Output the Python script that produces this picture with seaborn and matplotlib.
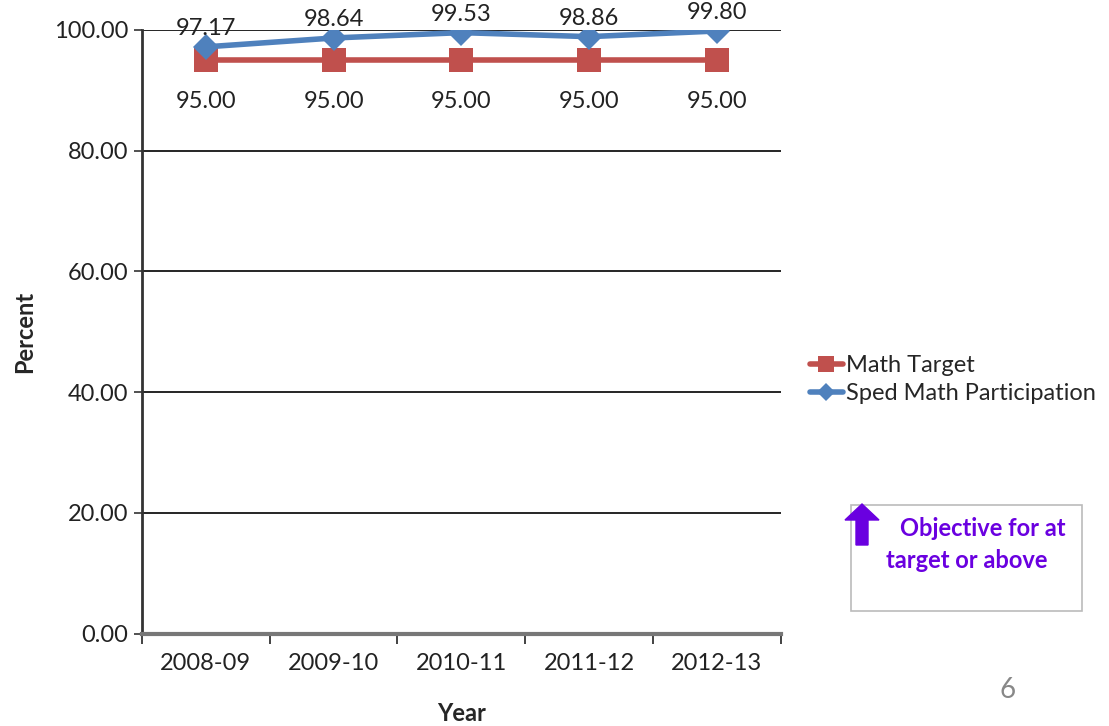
import numpy as np
import pandas as pd
import matplotlib
matplotlib.use("Agg")
import matplotlib.pyplot as plt
from matplotlib.patches import Rectangle, FancyArrow
import seaborn as sns

# chart values
years = ["2008-09", "2009-10", "2010-11", "2011-12", "2012-13"]
math_target = [95.00, 95.00, 95.00, 95.00, 95.00]
sped_participation = [97.17, 98.64, 99.53, 98.86, 99.80]
series_names = ["Math Target", "Sped Math Participation"]

df = pd.DataFrame({
    "Year": years * 2,
    "Percent": math_target + sped_participation,
    "Series": [series_names[0]] * len(years) + [series_names[1]] * len(years),
})

sns.set_style("white")
plt.rcParams["font.family"] = ["Lato", "DejaVu Sans"]
fs = 17

fig = plt.figure(figsize=(11.09, 7.26), dpi=100)
ax = fig.add_axes([0.128, 0.127, 0.576, 0.832])

red = "#C0504D"
blue = "#4F81BD"
sns.lineplot(data=df, x="Year", y="Percent", hue="Series", style="Series",
             palette=[red, blue], markers=["s", "D"], dashes=False,
             markersize=17, linewidth=4, markeredgewidth=0, ax=ax, sort=False)
# diamonds a bit smaller than the squares
for ln in ax.get_lines():
    if ln.get_marker() == "D":
        ln.set_markersize(13)

ax.set_ylim(0, 100)
ax.set_xlim(-0.5, 4.5)
ax.set_yticks(np.arange(0, 101, 20))
ax.set_yticklabels([f"{v:.2f}" for v in np.arange(0, 101, 20)], fontsize=fs, color="#222222")
ax.set_xticks(range(len(years)))
ax.set_xticklabels(years, fontsize=fs, color="#222222")
ax.set_xticks(np.arange(-0.5, 5, 1), minor=True)
ax.tick_params(axis="x", which="major", length=0, pad=14)
ax.tick_params(axis="x", which="minor", length=7, width=1.2, color="#222222", direction="out", bottom=True)
ax.tick_params(axis="y", length=6, width=1.2, color="#333333", left=True, pad=4)
ax.grid(axis="y", color="black", linewidth=1.2)
ax.set_axisbelow(True)

for s in ["top", "right"]:
    ax.spines[s].set_visible(False)
ax.spines["left"].set_color("#333333")
ax.spines["left"].set_linewidth(2)
ax.spines["bottom"].set_color("#777777")
ax.spines["bottom"].set_linewidth(3)

ax.set_xlabel("Year", fontsize=fs, fontweight="bold", labelpad=20)
ax.set_ylabel("Percent", fontsize=fs, fontweight="bold", labelpad=13)

# data labels
for i, v in enumerate(math_target):
    ax.annotate(f"{v:.2f}", (i, v), xytext=(0, -30), textcoords="offset points",
                ha="center", va="center", fontsize=fs, color="#222222")
for i, v in enumerate(sped_participation):
    ax.annotate(f"{v:.2f}", (i, v), xytext=(0, 13), textcoords="offset points",
                ha="center", va="center", fontsize=fs, color="#222222")

ax.legend(loc="center left", bbox_to_anchor=(0.711, 0.477), bbox_transform=fig.transFigure,
          frameon=False, fontsize=fs, handlelength=1.4, handletextpad=0.15,
          labelspacing=0.3, markerscale=0.7)

# objective box
fig.patches.append(Rectangle((0.767, 0.158), 0.209, 0.146, transform=fig.transFigure,
                             fill=False, edgecolor="#BBBBBB", linewidth=1.2))
fig.patches.append(FancyArrow(862, 181, 0, 25, width=12, head_width=34, head_length=16,
                              length_includes_head=False, color="#6A00E0", transform=None))
fig.text(983 / 1109, 1 - 528 / 726, "Objective for at", ha="center", va="center",
         fontsize=fs, fontweight="bold", color="#6A00E0")
fig.text(967 / 1109, 1 - 561 / 726, "target or above", ha="center", va="center",
         fontsize=fs, fontweight="bold", color="#6A00E0")

fig.text(1008 / 1109, 1 - 690 / 726, "6", ha="center", va="center", fontsize=20, color="#888888")

plt.savefig("out.png", dpi=100)
